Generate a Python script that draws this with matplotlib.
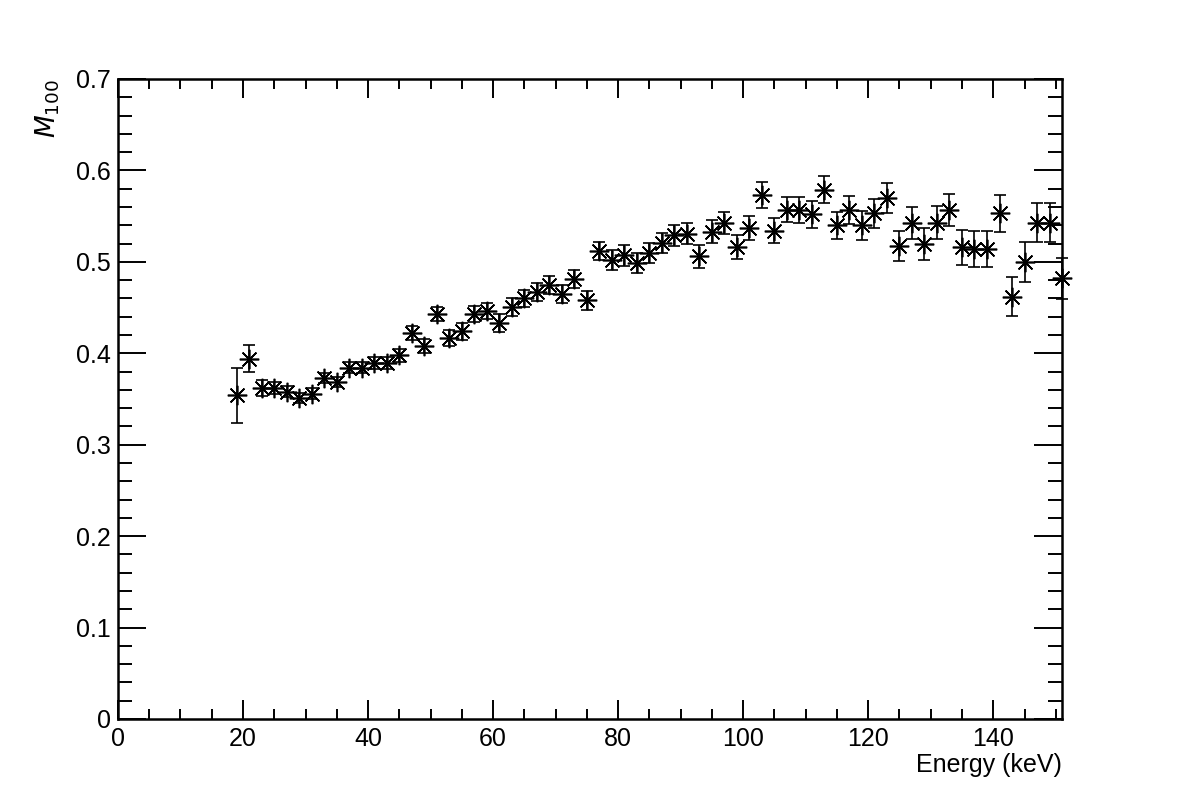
import matplotlib
matplotlib.use("Agg")
import matplotlib.pyplot as plt
import numpy as np
from matplotlib.ticker import MultipleLocator

plt.rcParams['font.family'] = ['Liberation Sans', 'DejaVu Sans']

# energy bins (keV), M100 values and errors
energy = list(range(19, 152, 2))
m100 = [0.354, 0.394, 0.362, 0.362, 0.358, 0.351, 0.356, 0.373, 0.369, 0.384,
        0.384, 0.389, 0.389, 0.398, 0.422, 0.408, 0.443, 0.417, 0.424, 0.443,
        0.446, 0.433, 0.451, 0.460, 0.467, 0.475, 0.465, 0.481, 0.458, 0.512,
        0.502, 0.507, 0.499, 0.510, 0.521, 0.529, 0.531, 0.506, 0.533, 0.542,
        0.516, 0.537, 0.573, 0.534, 0.557, 0.557, 0.552, 0.579, 0.540, 0.557,
        0.540, 0.553, 0.570, 0.517, 0.543, 0.520, 0.543, 0.557, 0.516, 0.514,
        0.514, 0.553, 0.462, 0.500, 0.543, 0.543, 0.482]
m100_err = [0.030, 0.0146, 0.0085, 0.0065, 0.006, 0.0055, 0.0055, 0.0055, 0.0055, 0.006,
            0.006, 0.0065, 0.0065, 0.007, 0.0073, 0.0077, 0.0073, 0.0086, 0.009, 0.0087,
            0.009, 0.0097, 0.0097, 0.0095, 0.0097, 0.010, 0.0102, 0.010, 0.0102, 0.010,
            0.0106, 0.011, 0.011, 0.011, 0.011, 0.0115, 0.0115, 0.0124, 0.0128, 0.012,
            0.0133, 0.013, 0.0146, 0.0135, 0.0137, 0.014, 0.015, 0.015, 0.015, 0.0155,
            0.016, 0.016, 0.0164, 0.0166, 0.0175, 0.0175, 0.0177, 0.0177, 0.019, 0.020,
            0.020, 0.020, 0.0215, 0.0215, 0.0215, 0.0215, 0.0225]

fig = plt.figure(figsize=(11.82, 8.0), dpi=100)
ax = fig.add_axes([0.0998, 0.10125, 0.7987, 0.8])

ax.errorbar(energy, m100, yerr=m100_err, fmt='none', ecolor='black',
            elinewidth=1.2, capsize=4, capthick=1.2, clip_on=False)
ax.plot(energy, m100, linestyle='none', marker=(8, 2, 0), markersize=14,
        markeredgewidth=1.2, color='black', clip_on=False)

ax.set_xlim(0, 151)
ax.set_ylim(0, 0.7)
ax.xaxis.set_major_locator(MultipleLocator(20))
ax.xaxis.set_minor_locator(MultipleLocator(5))
ax.yaxis.set_major_locator(MultipleLocator(0.1))
ax.yaxis.set_minor_locator(MultipleLocator(0.02))
ax.yaxis.set_major_formatter(plt.FuncFormatter(lambda v, p: '0' if abs(v) < 1e-9 else '%.1f' % v))

for s in ax.spines.values():
    s.set_linewidth(1.8)
ax.tick_params(axis='both', which='both', direction='in', top=True, right=True,
               labelsize=18, width=1.4)
ax.tick_params(axis='x', which='major', length=13.7, pad=6)
ax.tick_params(axis='x', which='minor', length=7.2)
ax.tick_params(axis='y', which='major', length=20, pad=5)
ax.tick_params(axis='y', which='minor', length=10)

ax.set_xlabel('Energy (keV)', fontsize=18, loc='right', labelpad=1)
ax.set_ylabel(r'$M_{100}$', fontsize=19, loc='top', labelpad=10)

fig.savefig('out.png', dpi=100)
